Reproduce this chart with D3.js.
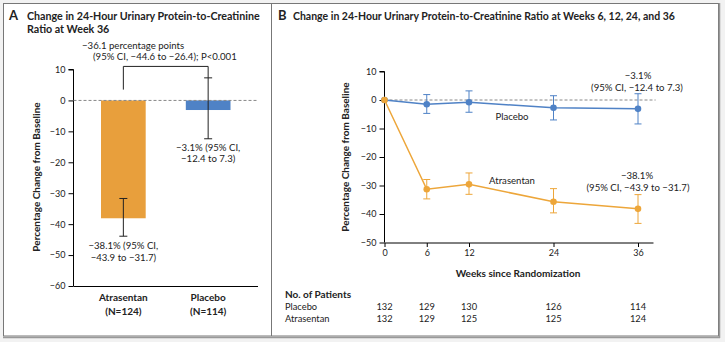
<!DOCTYPE html>
<html lang="en">
<head>
  <meta charset="UTF-8">
  <title>Urinary Protein-to-Creatinine Ratio</title>
  <style>
    body { margin: 0; background: #f2f2f2; }
    text { font-family: Lato, 'Open Sans', sans-serif; fill: #222; }
  </style>
</head>
<body>
  <svg id="svg" width="725" height="342"></svg>

  <script src="https://d3js.org/d3.v7.min.js"></script>
  <script>
    // panel A data
    const groups = ['Atrasentan', 'Placebo']
    const groupN = ['(N=124)', '(N=114)']
    const barValues = [-38.1, -3.1]
    const barLow = [-43.9, -12.4]
    const barHigh = [-31.7, 7.3]
    const yTicksA = [10, 0, -10, -20, -30, -40, -50, -60]

    // panel B data
    const weeks = [0, 6, 12, 24, 36]
    const placebo = [0, -1.5, -0.8, -2.7, -3.1]
    const placeboLow = [0, -4.7, -4.3, -7.0, -8.4]
    const placeboHigh = [0, 1.9, 3.2, 1.5, 2.2]
    const atrasentan = [0, -31.3, -29.6, -35.7, -38.2]
    const atrasentanLow = [0, -34.7, -33.1, -39.6, -43.3]
    const atrasentanHigh = [0, -27.9, -25.6, -31.1, -33.2]
    const yTicksB = [10, 0, -10, -20, -30, -40, -50]
    const nPlacebo = [132, 129, 130, 126, 114]
    const nAtrasentan = [132, 129, 125, 125, 124]

    const orange = '#e89f3c'
    const blue = '#4f82c6'

    const svg = d3.select('#svg')

    // figure frame
    svg.append('rect').attr('x', 3.5).attr('y', 3.5).attr('width', 715).attr('height', 332.5)
      .attr('fill', '#fff').attr('stroke', '#777').attr('stroke-width', 1)
    svg.append('line').attr('x1', 719.5).attr('x2', 719.5).attr('y1', 3).attr('y2', 338)
      .attr('stroke', '#999').attr('stroke-width', 1.5)
    svg.append('line').attr('x1', 3).attr('x2', 720).attr('y1', 337.5).attr('y2', 337.5)
      .attr('stroke', '#999').attr('stroke-width', 1.5)
    svg.append('line').attr('x1', 271.5).attr('x2', 271.5).attr('y1', 3.5).attr('y2', 336)
      .attr('stroke', '#777')

    // ---------- Panel A ----------
    svg.append('text').attr('x', 9).attr('y', 20).text('A')
      .style('font-weight', 'bold').style('font-size', '13px')
    const titleA = svg.append('text').style('font-weight', 'bold').style('font-size', '10.7px')
    titleA.append('tspan').attr('x', 27).attr('y', 20).text('Change in 24-Hour Urinary Protein-to-Creatinine')
    titleA.append('tspan').attr('x', 27).attr('y', 33).text('Ratio at Week 36')

    const yA = d3.scaleLinear().domain([-60, 10]).range([286, 69.5])
    const xA = d3.scaleBand().domain(groups).range([101, 230.5]).paddingInner(0.473).paddingOuter(0)

    const gA = svg.append('g')
    gA.append('g')
      .attr('transform', 'translate(73.5,0)')
      .call(d3.axisLeft(yA).tickValues(yTicksA).tickSize(5).tickFormat(d => d < 0 ? '\u2212' + Math.abs(d) : d))
      .call(g => g.selectAll('.domain').attr('d', `M-5,${yA(10)}H0V${yA(-60)}`))
      .call(g => g.selectAll('text').style('font-size', '9px').attr('fill', '#222'))

    gA.append('line').attr('x1', 73.5).attr('x2', 258).attr('y1', yA(-60) + 0.5).attr('y2', yA(-60) + 0.5)
      .attr('stroke', '#000')

    gA.selectAll('rect.bar').data(groups).enter().append('rect')
      .attr('class', 'bar')
      .attr('x', d => xA(d))
      .attr('width', xA.bandwidth())
      .attr('y', yA(0))
      .attr('height', (d, i) => yA(barValues[i]) - yA(0))
      .attr('fill', (d, i) => i === 0 ? orange : blue)

    gA.append('line').attr('x1', 73.5).attr('x2', 258).attr('y1', yA(0)).attr('y2', yA(0))
      .attr('stroke', '#888').attr('stroke-dasharray', '3,2')

    // error bars A
    groups.forEach((d, i) => {
      const cx = xA(d) + xA.bandwidth() / 2
      const g = gA.append('g').attr('stroke', '#222').attr('stroke-width', 1)
      g.append('line').attr('x1', cx).attr('x2', cx).attr('y1', yA(barLow[i])).attr('y2', yA(barHigh[i]))
      g.append('line').attr('x1', cx - 4).attr('x2', cx + 4).attr('y1', yA(barLow[i])).attr('y2', yA(barLow[i]))
      g.append('line').attr('x1', cx - 4).attr('x2', cx + 4).attr('y1', yA(barHigh[i])).attr('y2', yA(barHigh[i]))
    })

    // bracket
    const c0 = xA(groups[0]) + xA.bandwidth() / 2
    const c1 = xA(groups[1]) + xA.bandwidth() / 2
    gA.append('path')
      .attr('d', `M${c0},${yA(3.5)}V${yA(11)}H${c1}V${yA(barHigh[1])}`)
      .attr('fill', 'none').attr('stroke', '#222')

    gA.append('text').attr('x', 82).attr('y', 49).style('font-size', '9.6px')
      .text('\u221236.1 percentage points')
    gA.append('text').attr('x', 93).attr('y', 60).style('font-size', '9.6px')
      .text('(95% CI, \u221244.6 to \u221226.4); P<0.001')

    const noteA = [
      ['\u221238.1% (95% CI,', '\u221243.9 to \u221231.7)'],
      ['\u22123.1% (95% CI,', '\u221212.4 to 7.3)']
    ]
    const noteY = [yA(barLow[0]) + 13, yA(barLow[1]) + 12]
    groups.forEach((d, i) => {
      const cx = xA(d) + xA.bandwidth() / 2
      const t = gA.append('text').attr('text-anchor', 'middle').style('font-size', '9.6px')
      t.append('tspan').attr('x', cx).attr('y', noteY[i]).text(noteA[i][0])
      t.append('tspan').attr('x', cx).attr('y', noteY[i] + 11.5).text(noteA[i][1])

      const lbl = gA.append('text').attr('text-anchor', 'middle').style('font-size', '10px').style('font-weight', 'bold')
      lbl.append('tspan').attr('x', cx).attr('y', 301).text(d)
      lbl.append('tspan').attr('x', cx).attr('y', 315).text(groupN[i])
    })

    gA.append('text').attr('transform', 'translate(40,177) rotate(-90)')
      .attr('text-anchor', 'middle').style('font-size', '10px').style('font-weight', 'bold')
      .text('Percentage Change from Baseline')

    // ---------- Panel B ----------
    svg.append('text').attr('x', 278).attr('y', 20).text('B')
      .style('font-weight', 'bold').style('font-size', '13px')
    svg.append('text').attr('x', 293).attr('y', 20).style('font-weight', 'bold').style('font-size', '10.5px')
      .text('Change in 24-Hour Urinary Protein-to-Creatinine Ratio at Weeks 6, 12, 24, and 36')

    const xB = d3.scaleLinear().domain([0, 36]).range([384.5, 638])
    const yB = d3.scaleLinear().domain([-50, 10]).range([242.5, 71.5])

    const gB = svg.append('g')
    gB.append('g')
      .attr('transform', 'translate(384.5,0)')
      .call(d3.axisLeft(yB).tickValues(yTicksB).tickSize(5).tickFormat(d => d < 0 ? '\u2212' + Math.abs(d) : d))
      .call(g => g.selectAll('.domain').attr('d', `M-5,${yB(10)}H0V${yB(-50)}`))
      .call(g => g.selectAll('text').style('font-size', '9px').attr('fill', '#222'))

    gB.append('g')
      .attr('transform', `translate(0,${yB(-50) + 0.5})`)
      .call(d3.axisBottom(xB).tickValues(weeks).tickSize(4).tickPadding(3))
      .call(g => g.selectAll('.domain').attr('d', `M${xB(0)},0H${xB(38.2)}`))
      .call(g => g.selectAll('text').style('font-size', '9px').attr('fill', '#222'))

    gB.append('line').attr('x1', xB(0)).attr('x2', xB(38.5)).attr('y1', yB(0)).attr('y2', yB(0))
      .attr('stroke', '#888').attr('stroke-dasharray', '3,2')

    const series = [
      { vals: placebo, low: placeboLow, high: placeboHigh, color: blue },
      { vals: atrasentan, low: atrasentanLow, high: atrasentanHigh, color: '#eda63a' }
    ]
    const line = d3.line().x((d, i) => xB(weeks[i])).y(d => yB(d))

    series.forEach(s => {
      const g = gB.append('g')
      g.append('path').datum(s.vals).attr('d', line)
        .attr('fill', 'none').attr('stroke', s.color).attr('stroke-width', 1.5)
      weeks.forEach((w, i) => {
        if (i === 0) return
        const x = xB(w)
        g.append('line').attr('x1', x).attr('x2', x).attr('y1', yB(s.low[i])).attr('y2', yB(s.high[i]))
          .attr('stroke', s.color)
        g.append('line').attr('x1', x - 3.5).attr('x2', x + 3.5).attr('y1', yB(s.low[i])).attr('y2', yB(s.low[i]))
          .attr('stroke', s.color)
        g.append('line').attr('x1', x - 3.5).attr('x2', x + 3.5).attr('y1', yB(s.high[i])).attr('y2', yB(s.high[i]))
          .attr('stroke', s.color)
      })
      g.selectAll('circle').data(s.vals).enter().append('circle')
        .attr('cx', (d, i) => xB(weeks[i])).attr('cy', d => yB(d)).attr('r', 3.3)
        .attr('fill', s.color)
    })

    gB.append('text').attr('x', 512).attr('y', 120).attr('text-anchor', 'middle').style('font-size', '9.6px').text('Placebo')
    gB.append('text').attr('x', 512).attr('y', 184).attr('text-anchor', 'middle').style('font-size', '9.6px').text('Atrasentan')

    const tP = gB.append('text').attr('text-anchor', 'middle').style('font-size', '9.6px')
    tP.append('tspan').attr('x', 638).attr('y', 79).text('\u22123.1%')
    tP.append('tspan').attr('x', 637).attr('y', 91).text('(95% CI, \u221212.4 to 7.3)')
    const tA = gB.append('text').attr('text-anchor', 'middle').style('font-size', '9.6px')
    tA.append('tspan').attr('x', 637).attr('y', 179).text('\u221238.1%')
    tA.append('tspan').attr('x', 638).attr('y', 191).text('(95% CI, \u221243.9 to \u221231.7)')

    gB.append('text').attr('transform', 'translate(349,157) rotate(-90)')
      .attr('text-anchor', 'middle').style('font-size', '10px').style('font-weight', 'bold')
      .text('Percentage Change from Baseline')
    gB.append('text').attr('x', 518).attr('y', 277).attr('text-anchor', 'middle')
      .style('font-size', '10px').style('font-weight', 'bold').text('Weeks since Randomization')

    // number at risk table
    gB.append('text').attr('x', 285).attr('y', 298).style('font-size', '10px').style('font-weight', 'bold')
      .text('No. of Patients')
    const rows = [['Placebo', nPlacebo], ['Atrasentan', nAtrasentan]]
    rows.forEach((r, j) => {
      const y = 310 + j * 12.3
      gB.append('text').attr('x', 285).attr('y', y).style('font-size', '9.3px').text(r[0])
      gB.selectAll(null).data(r[1]).enter().append('text')
        .attr('x', (d, i) => xB(weeks[i])).attr('y', y).attr('text-anchor', 'middle')
        .style('font-size', '9.3px').text(d => d)
    })
  </script>
</body>
</html>
